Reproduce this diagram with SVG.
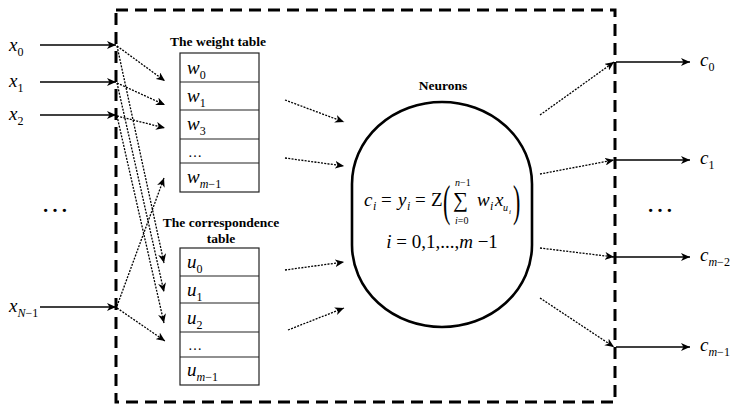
<svg xmlns="http://www.w3.org/2000/svg" width="733" height="405" viewBox="0 0 733 405">
<defs>
<marker id="ah" markerUnits="userSpaceOnUse" markerWidth="10" markerHeight="8" refX="9" refY="4" orient="auto">
<path d="M0,0 L9,4 L0,8 L2.5,4 z" fill="#000"/>
</marker>
<style>
text{font-family:"Liberation Serif","Times New Roman",serif;fill:#000}
.m{font-style:italic;font-size:19px}
.s{font-size:12px}
.r{font-size:19px}
.h{font-weight:bold;font-size:13.5px;text-anchor:middle}
.sol{stroke:#000;stroke-width:1.6;fill:none;marker-end:url(#ah)}
.dot{stroke:#000;stroke-width:1.3;stroke-dasharray:2,1.3;fill:none;marker-end:url(#ah)}
.tb{fill:#fff;stroke:#222;stroke-width:1.2}
.ln{stroke:#222;stroke-width:1.1}
.dl{font-size:28px}
</style>
</defs>
<rect id="box" x="116" y="10" width="499" height="392" fill="none" stroke="#000" stroke-width="3" stroke-dasharray="12,7"/>

<g id="inputs">
<text class="m" x="9" y="51">x<tspan class="s" style="font-style:normal" dy="5">0</tspan></text>
<text class="m" x="9" y="87">x<tspan class="s" style="font-style:normal" dy="5">1</tspan></text>
<text class="m" x="9" y="120">x<tspan class="s" style="font-style:normal" dy="5">2</tspan></text>
<text class="m" x="9" y="312">x<tspan class="s" dy="5">N</tspan><tspan class="s" style="font-style:normal">−1</tspan></text>
<text class="dl" x="41" y="212">…</text>
</g>

<g id="weight-table">
<text class="h" x="218" y="46">The weight table</text>
<rect class="tb" x="180" y="53" width="79" height="139"/>
<line class="ln" x1="180" y1="82" x2="259" y2="82"/>
<line class="ln" x1="180" y1="110" x2="259" y2="110"/>
<line class="ln" x1="180" y1="139" x2="259" y2="139"/>
<line class="ln" x1="180" y1="163" x2="259" y2="163"/>
<text class="m" x="187" y="74">w<tspan class="s" style="font-style:normal" dy="5">0</tspan></text>
<text class="m" x="187" y="102">w<tspan class="s" style="font-style:normal" dy="5">1</tspan></text>
<text class="m" x="187" y="130">w<tspan class="s" style="font-style:normal" dy="5">3</tspan></text>
<text x="188" y="157" style="font-size:14px">…</text>
<text class="m" x="187" y="183">w<tspan class="s" dy="5">m</tspan><tspan class="s" style="font-style:normal">−1</tspan></text>
</g>

<g id="correspondence-table">
<text class="h" x="221" y="227">The correspondence</text>
<text class="h" x="221" y="243">table</text>
<rect class="tb" x="180" y="248" width="79" height="137"/>
<line class="ln" x1="180" y1="276" x2="259" y2="276"/>
<line class="ln" x1="180" y1="303" x2="259" y2="303"/>
<line class="ln" x1="180" y1="332" x2="259" y2="332"/>
<line class="ln" x1="180" y1="357" x2="259" y2="357"/>
<text class="m" x="187" y="268">u<tspan class="s" style="font-style:normal" dy="5">0</tspan></text>
<text class="m" x="187" y="296">u<tspan class="s" style="font-style:normal" dy="5">1</tspan></text>
<text class="m" x="187" y="324">u<tspan class="s" style="font-style:normal" dy="5">2</tspan></text>
<text x="188" y="350" style="font-size:14px">…</text>
<text class="m" x="187" y="376">u<tspan class="s" dy="5">m</tspan><tspan class="s" style="font-style:normal">−1</tspan></text>
</g>

<g id="neurons">
<text class="h" x="443" y="90">Neurons</text>
<rect x="352" y="102" width="180" height="225" rx="90" ry="82" fill="none" stroke="#000" stroke-width="2.6"/>
<text class="m" x="364" y="206">c</text>
<text class="m" x="373" y="210" style="font-size:12px">i</text>
<text class="r" x="381" y="206">=</text>
<text class="m" x="398" y="206">y</text>
<text class="m" x="407" y="210" style="font-size:12px">i</text>
<text class="r" x="415" y="206">=</text>
<text class="r" x="431" y="206">Z</text>
<text x="0" y="0" style="font-size:44px" transform="translate(443,216) scale(0.5,1)">(</text>
<text x="453" y="207" style="font-size:21px">∑</text>
<text x="455" y="186" style="font-size:10px;font-style:italic">n<tspan style="font-style:normal">−1</tspan></text>
<text x="455" y="224" style="font-size:10px;font-style:italic">i<tspan style="font-style:normal">=0</tspan></text>
<text class="m" x="477" y="206">w</text>
<text class="m" x="490" y="210" style="font-size:12px">i</text>
<text class="m" x="495" y="206">x</text>
<text class="m" x="503" y="211" style="font-size:10px">u</text>
<text class="m" x="509" y="214" style="font-size:7px">i</text>
<text x="0" y="0" style="font-size:44px" transform="translate(513,216) scale(0.5,1)">)</text>
<text class="r" x="442" y="248" text-anchor="middle"><tspan style="font-style:italic">i</tspan> = 0,1,...,<tspan style="font-style:italic">m</tspan> −1</text>
</g>

<g id="outputs">
<text class="m" x="700" y="66">c<tspan class="s" style="font-style:normal" dy="5">0</tspan></text>
<text class="m" x="700" y="164">c<tspan class="s" style="font-style:normal" dy="5">1</tspan></text>
<text class="m" x="700" y="261">c<tspan class="s" dy="5">m</tspan><tspan class="s" style="font-style:normal">−2</tspan></text>
<text class="m" x="700" y="351">c<tspan class="s" dy="5">m</tspan><tspan class="s" style="font-style:normal">−1</tspan></text>
<text class="dl" x="646" y="212">…</text>
</g>

<g id="connectors">
<line class="sol" x1="40" y1="45" x2="116" y2="45"/>
<line class="sol" x1="40" y1="82" x2="116" y2="82"/>
<line class="sol" x1="40" y1="115" x2="116" y2="115"/>
<line class="sol" x1="40" y1="307" x2="116" y2="307"/>
<line class="dot" x1="117" y1="46" x2="165" y2="81"/>
<line class="dot" x1="117" y1="83" x2="165" y2="105"/>
<line class="dot" x1="117" y1="116" x2="165" y2="128"/>
<line class="dot" x1="117" y1="46" x2="164" y2="263"/>
<line class="dot" x1="117" y1="83" x2="164" y2="292"/>
<line class="dot" x1="117" y1="116" x2="164" y2="323"/>
<line class="dot" x1="117" y1="306" x2="164" y2="178"/>
<line class="dot" x1="117" y1="308" x2="165" y2="341"/>
<line class="dot" x1="285" y1="100" x2="344" y2="122"/>
<line class="dot" x1="285" y1="158" x2="344" y2="166"/>
<line class="dot" x1="285" y1="270" x2="344" y2="262"/>
<line class="dot" x1="288" y1="330" x2="344" y2="308"/>
<line class="dot" x1="540" y1="115" x2="614" y2="62"/>
<line class="dot" x1="540" y1="174" x2="614" y2="160"/>
<line class="dot" x1="540" y1="248" x2="614" y2="257"/>
<line class="dot" x1="540" y1="298" x2="614" y2="347"/>
<line class="sol" x1="616" y1="62" x2="690" y2="62"/>
<line class="sol" x1="616" y1="160" x2="690" y2="160"/>
<line class="sol" x1="616" y1="257" x2="690" y2="257"/>
<line class="sol" x1="616" y1="347" x2="690" y2="347"/>
</g>
</svg>
